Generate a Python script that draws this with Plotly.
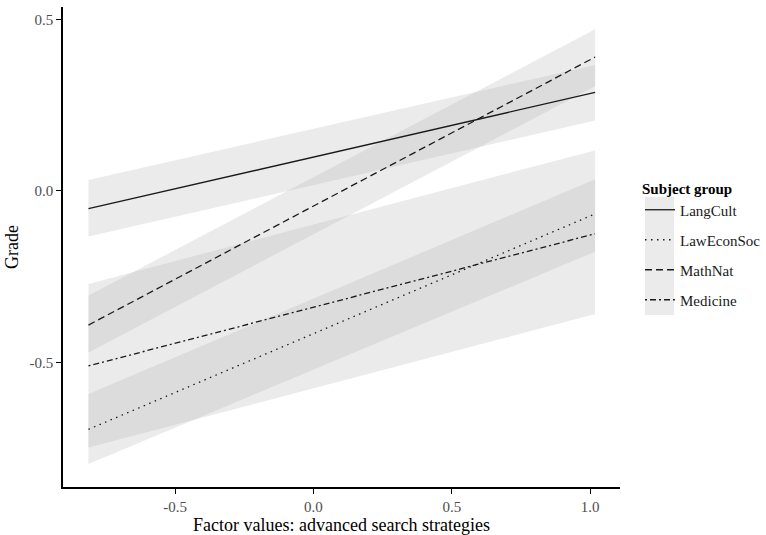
import plotly.graph_objects as go

# ---- data ----
x_ends = [-0.813, 1.018]
groups = ["LangCult", "LawEconSoc", "MathNat", "Medicine"]

langcult_fit = [-0.052, 0.287]
langcult_lo = [-0.133, 0.205]
langcult_hi = [0.032, 0.367]

laweconsoc_fit = [-0.695, -0.067]
laweconsoc_lo = [-0.796, -0.177]
laweconsoc_hi = [-0.592, 0.034]

mathnat_fit = [-0.391, 0.390]
mathnat_lo = [-0.471, 0.305]
mathnat_hi = [-0.305, 0.471]

medicine_fit = [-0.510, -0.125]
medicine_lo = [-0.748, -0.359]
medicine_hi = [-0.271, 0.118]

x_tickvals = [-0.5, 0.0, 0.5, 1.0]
x_ticktext = ["-0.5", "0.0", "0.5", "1.0"]
y_tickvals = [-0.5, 0.0, 0.5]
y_ticktext = ["-0.5", "0.0", "0.5"]

fits = [langcult_fit, laweconsoc_fit, mathnat_fit, medicine_fit]
los = [langcult_lo, laweconsoc_lo, mathnat_lo, medicine_lo]
his = [langcult_hi, laweconsoc_hi, mathnat_hi, medicine_hi]
dashes = ["solid", "1.5px,4.5px", "7px,4px", "2px,3px,6px,3px"]

FONT = "Liberation Serif"

fig = go.Figure()

for g, lo, hi in zip(groups, los, his):
    fig.add_trace(go.Scatter(
        x=x_ends + x_ends[::-1],
        y=lo + hi[::-1],
        fill="toself",
        fillcolor="rgba(175,175,175,0.25)",
        line=dict(width=0),
        mode="lines",
        hoverinfo="skip",
        showlegend=False,
    ))

for g, fit, d in zip(groups, fits, dashes):
    fig.add_trace(go.Scatter(
        x=x_ends, y=fit, mode="lines", name=g, legendgroup=g,
        line=dict(color="#1a1a1a", width=1.3, dash=d),
    ))

# legend key background
L, R, T, B = 63, 620, 7, 487
pw, ph = R - L, B - T
def px_x(p):
    return (p - L) / pw
def px_y(p):
    return (B - p) / ph

fig.add_shape(type="rect", xref="paper", yref="paper",
              x0=px_x(645), x1=px_x(674), y0=px_y(315), y1=px_y(197),
              fillcolor="#EBEBEB", line=dict(width=0), layer="below")

axis_common = dict(
    showline=True, linecolor="black", linewidth=1.6,
    ticks="outside", ticklen=5, tickwidth=1.4, tickcolor="black",
    showgrid=False, zeroline=False, automargin=False,
    tickfont=dict(family=FONT, size=15, color="#4d4d4d"),
)

fig.update_layout(
    width=766, height=535,
    margin=dict(l=L, r=766 - R, t=T, b=535 - B, autoexpand=False),
    plot_bgcolor="white", paper_bgcolor="white",
    font=dict(family=FONT, color="black"),
    xaxis=dict(range=[-0.905, 1.108], tickvals=x_tickvals, ticktext=x_ticktext,
               title=dict(text="Factor values: advanced search strategies",
                          font=dict(family=FONT, size=18, color="black"), standoff=1),
               **axis_common),
    yaxis=dict(range=[-0.863, 0.536], tickvals=y_tickvals, ticktext=y_ticktext,
               title=dict(text="Grade", font=dict(family=FONT, size=18, color="black"), standoff=6),
               **axis_common),
    legend=dict(
        x=px_x(640), xanchor="left", y=px_y(174), yanchor="top",
        title=dict(text="<b>Subject group</b>", font=dict(family=FONT, size=15, color="black")),
        font=dict(family=FONT, size=15, color="#1a1a1a"),
        traceorder="grouped", tracegroupgap=7.5,
        bgcolor="rgba(0,0,0,0)", itemwidth=30,
    ),
    showlegend=True,
)

fig.write_html("out.html", config={"displayModeBar": False},
               post_script="document.body.style.margin='0';document.body.style.overflow='hidden';")
